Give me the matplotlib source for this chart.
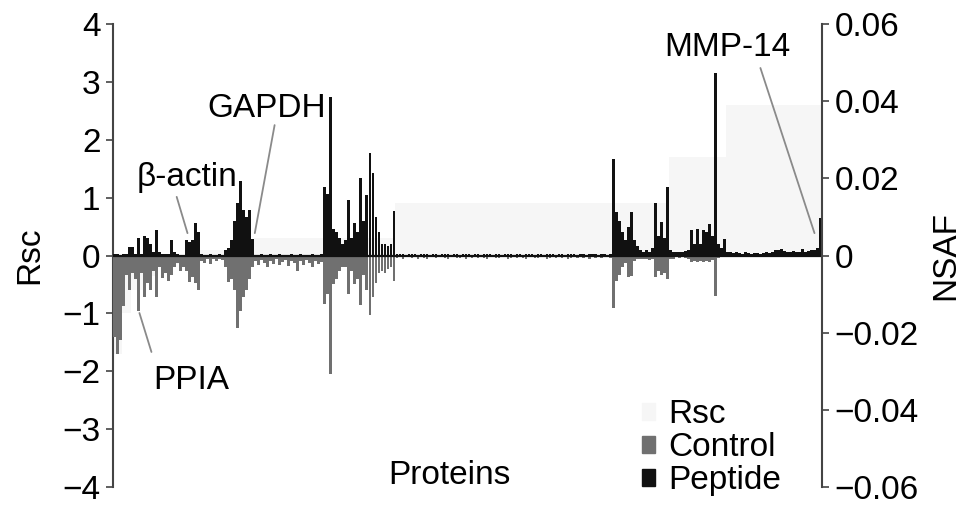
import numpy as np
import matplotlib
matplotlib.use("Agg")
import matplotlib.pyplot as plt
from matplotlib.patches import Patch

plt.rcParams['font.family'] = ['Liberation Sans', 'DejaVu Sans']
plt.rcParams['font.size'] = 24

# NSAF values per protein, in units of 1e-3
peptide_e3 = [
    0.3, 0.3, 0.2, 0.3, 0.5, 2.1, 2.1, 0.5, 4.5, 0.5,
    5.0, 4.5, 3.0, 1.0, 6.5, 1.0, 0.5, 0.3, 0.3, 4.0,
    1.0, 0.3, 0.2, 0.2, 3.9, 3.5, 3.9, 8.5, 6.0, 0.3,
    0.2, 0.2, 0.3, 0.2, 0.2, 0.3, 0.2, 1.5, 2.0, 4.0,
    9.0, 13.5, 19.2, 11.7, 10.0, 11.7, 4.3, 0.2, 0.2, 0.3,
    0.2, 0.2, 0.3, 0.2, 0.2, 0.3, 0.2, 0.2, 0.2, 0.3,
    0.2, 0.2, 0.3, 0.2, 0.2, 0.2, 0.3, 0.2, 0.2, 0.3,
    17.7, 16.0, 41.0, 7.0, 6.0, 4.5, 3.0, 4.0, 14.4, 4.5,
    8.4, 6.0, 20.1, 9.0, 15.6, 26.5, 21.3, 10.0, 6.0, 3.0,
    3.0, 2.5, 3.0, 11.5, 0.4, 0.3, 0.3, 0.2, 0.3, 0.4,
    0.3, 0.2, 0.3, 0.3, 0.4, 0.2, 0.3, 0.3, 0.2, 0.3,
    0.4, 0.3, 0.2, 0.3, 0.3, 0.2, 0.3, 0.4, 0.3, 0.2,
    0.3, 0.3, 0.2, 0.3, 0.4, 0.3, 0.2, 0.3, 0.3, 0.2,
    0.3, 0.4, 0.3, 0.2, 0.3, 0.3, 0.2, 0.3, 0.4, 0.3,
    0.2, 0.3, 0.3, 0.2, 0.3, 0.4, 0.3, 0.2, 0.3, 0.3,
    0.2, 0.3, 0.4, 0.3, 0.2, 0.3, 0.3, 0.2, 0.3, 0.4,
    0.3, 0.2, 0.3, 0.3, 0.2, 0.3, 24.9, 11.2, 9.0, 6.1,
    4.0, 7.3, 11.2, 3.9, 2.5, 1.5, 1.0, 1.5, 1.0, 2.0,
    13.5, 5.0, 8.8, 4.5, 17.7, 1.5, 1.0, 0.8, 1.0, 0.8,
    1.2, 1.5, 6.5, 3.0, 6.9, 3.0, 6.5, 6.0, 8.2, 5.0,
    47.3, 3.0, 2.0, 4.3, 1.0, 0.8, 0.6, 0.8, 0.6, 0.5,
    0.8, 0.6, 0.5, 0.7, 0.6, 0.5, 0.6, 0.8, 0.7, 1.0,
    1.5, 1.3, 1.6, 1.2, 1.0, 0.8, 1.2, 0.9, 1.0, 1.8,
    1.0, 1.2, 1.4, 1.5, 2.0, 9.7,
]

control_e3 = [
    21.0, 25.5, 22.0, 13.0, 5.0, 9.0, 4.5, 6.0, 14.3, 4.5,
    10.8, 7.0, 9.0, 4.0, 10.8, 3.0, 5.7, 4.5, 6.5, 5.0,
    3.0, 2.0, 3.9, 3.0, 3.9, 6.8, 5.5, 7.0, 9.0, 1.5,
    2.0, 1.0, 2.2, 1.0, 1.5, 0.8, 1.2, 3.0, 6.8, 6.0,
    9.0, 18.9, 14.3, 10.8, 9.0, 6.0, 3.0, 1.5, 2.5, 1.2,
    2.0, 3.0, 1.5, 2.2, 1.0, 2.5, 1.8, 1.2, 2.8, 1.5,
    2.0, 3.9, 1.5, 2.5, 1.2, 2.0, 3.0, 1.5, 2.2, 1.8,
    12.5, 10.0, 30.8, 7.5, 6.0, 3.9, 3.0, 3.0, 9.9, 4.0,
    7.5, 6.0, 12.9, 5.0, 9.0, 15.5, 10.8, 7.0, 4.5, 4.0,
    4.5, 3.5, 3.0, 6.5, 0.6, 0.4, 0.8, 0.5, 0.3, 0.6,
    0.5, 0.8, 0.4, 0.6, 0.9, 0.5, 0.4, 0.7, 0.5, 0.3,
    0.6, 0.8, 0.5, 0.4, 0.7, 0.6, 0.5, 0.9, 0.4, 0.6,
    0.5, 0.7, 0.4, 0.6, 0.8, 0.5, 0.3, 0.6, 0.7, 0.5,
    0.4, 0.8, 0.6, 0.5, 0.7, 0.4, 0.6, 0.9, 0.5, 0.4,
    0.6, 0.7, 0.5, 0.4, 0.8, 0.6, 0.5, 0.7, 0.4, 0.6,
    0.5, 0.8, 0.6, 0.4, 0.7, 0.5, 0.6, 0.4, 0.8, 0.5,
    0.6, 0.4, 0.7, 0.5, 0.4, 0.6, 13.5, 6.5, 5.0, 3.0,
    2.0, 5.5, 5.2, 1.5, 1.0, 1.0, 0.8, 1.0, 1.2, 1.0,
    5.5, 4.0, 5.0, 4.5, 6.0, 1.0, 0.8, 0.5, 0.6, 0.5,
    0.7, 0.8, 1.8, 1.5, 1.8, 1.5, 1.8, 1.5, 1.8, 1.2,
    10.4, 0.6, 0.5, 0.4, 0.3, 0.4, 0.3, 0.3, 0.4, 0.3,
    0.3, 0.4, 0.3, 0.3, 0.4, 0.3, 0.3, 0.4, 0.3, 0.3,
    0.4, 0.3, 0.4, 0.3, 0.3, 0.4, 0.3, 0.3, 0.4, 0.3,
    0.3, 0.4, 0.3, 0.4, 0.3, 0.5,
]

# Rsc per protein (step levels)
rsc = ([-1.7] * 3 + [-1.0] * 3 + [-0.6] * 4 + [-0.35] * 5 + [-0.15] * 10 +
       [0.1] * 22 + [0.3] * 47 + [0.9] * 91 + [1.7] * 19 + [2.6] * 32)

peptide = np.array(peptide_e3) / 1000
control = np.array(control_e3) / 1000
idx = np.arange(len(rsc))

fig = plt.figure(figsize=(9.69, 5.12), dpi=100)
ax = fig.add_axes([0.1166, 0.0488, 0.7317, 0.9043])
ax2 = ax.twinx()

ax.bar(idx, rsc, width=1.0, color='#f6f6f6', linewidth=0)
ax.set_ylim(-4, 4)
ax.set_xlim(-0.5, len(rsc) - 0.5)

ax2.bar(idx, peptide, width=0.9, color='#111111', linewidth=0)
ax2.bar(idx, -control, width=0.9, color='#707070', linewidth=0)
ax2.axhline(0, color='#111111', lw=1.6)
ax2.set_ylim(-0.06, 0.06)
ax2.set_yticks([-0.06, -0.04, -0.02, 0, 0.02, 0.04, 0.06])
ax2.set_yticklabels(['\u22120.06', '\u22120.04', '\u22120.02', '0', '0.02', '0.04', '0.06'])
ax.set_yticks(range(-4, 5))
ax.set_yticklabels([('\u2212%d' % -v) if v < 0 else str(v) for v in range(-4, 5)])

for a in (ax, ax2):
    for s in ('top', 'bottom'):
        a.spines[s].set_visible(False)
    a.set_xticks([])
ax.spines['right'].set_visible(False)
ax2.spines['left'].set_visible(False)
ax.spines['left'].set_color('#444444')
ax2.spines['right'].set_color('#444444')
ax.spines['left'].set_linewidth(1.5)
ax2.spines['right'].set_linewidth(1.5)
ax.tick_params(axis='y', direction='out', length=5, width=1.2, color='#444444', pad=4)
ax2.tick_params(axis='y', direction='out', length=5, width=1.2, color='#444444', pad=4)

ax.set_ylabel('Rsc', labelpad=12)
ax2.set_ylabel('NSAF', labelpad=8)
ax.text(0.475, 0.025, 'Proteins', transform=ax.transAxes, ha='center', va='center')

# labels with leader lines
line_kw = dict(arrowstyle='-', color='#8a8a8a', lw=1.3, shrinkA=0, shrinkB=0)
ax2.annotate('', xy=(24.3, 0.0058), xytext=(20.7, 0.0152), arrowprops=line_kw)
ax2.text(24.0, 0.0201, '\u03b2-actin', ha='center', va='center')
ax2.annotate('', xy=(46.7, 0.0058), xytext=(53.3, 0.0338), arrowprops=line_kw)
ax2.text(50.7, 0.0382, 'GAPDH', ha='center', va='center')
ax2.annotate('', xy=(233.0, 0.0058), xytext=(215.0, 0.0486), arrowprops=line_kw)
ax2.text(204.0, 0.0538, 'MMP-14', ha='center', va='center')
ax2.annotate('', xy=(12.3, -0.0250), xytext=(8.3, -0.0149), arrowprops=line_kw)
ax2.text(25.7, -0.0323, 'PPIA', ha='center', va='center')

handles = [Patch(color='#f6f6f6'), Patch(color='#707070'), Patch(color='#111111')]
fig.legend(handles, ['Rsc', 'Control', 'Peptide'], loc='lower left',
           bbox_to_anchor=(0.645, -0.002), frameon=False, handlelength=0.4,
           handleheight=0.4, handletextpad=0.4, labelspacing=0.06,
           borderpad=0, fontsize=24)

fig.savefig('out.png', dpi=100)
